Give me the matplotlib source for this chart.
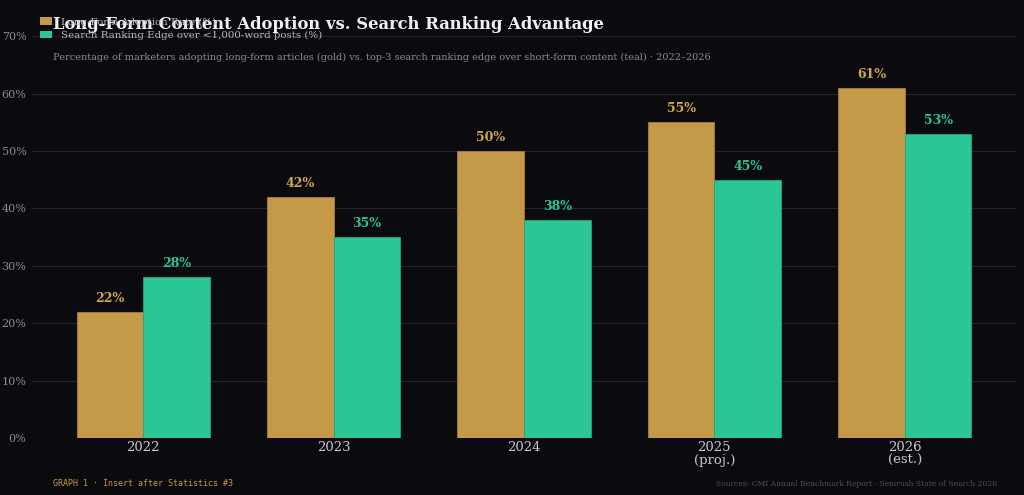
import matplotlib.pyplot as plt
import numpy as np
from matplotlib.patches import Patch

# --- data ---
years = ['2022', '2023', '2024', '2025\n(proj.)', '2026\n(est.)']
adoption = [22, 42, 50, 55, 61]
ranking_edge = [28, 35, 38, 45, 53]

bg = '#0b0b0f'
gold = '#c49a48'
teal = '#2bc596'

plt.rcParams['font.family'] = 'DejaVu Serif'

fig = plt.figure(figsize=(10.24, 4.95), dpi=100, facecolor=bg)
ax = fig.add_axes([0.03125, 0.115, 0.961, 0.812], facecolor=bg)

x = np.arange(len(years))
w = 0.35
b1 = ax.bar(x - w / 2, adoption, w, color=gold, edgecolor='#a88035', linewidth=0.6, zorder=3)
b2 = ax.bar(x + w / 2, ranking_edge, w, color=teal, edgecolor='#22a57c', linewidth=0.6, zorder=3)

for rect, v in zip(b1, adoption):
    ax.annotate(f'{v}%', (rect.get_x() + rect.get_width() / 2, v), xytext=(0, 5),
                textcoords='offset points', ha='center', va='bottom',
                color='#d0a84e', fontsize=9, fontweight='bold')
for rect, v in zip(b2, ranking_edge):
    ax.annotate(f'{v}%', (rect.get_x() + rect.get_width() / 2, v), xytext=(0, 5),
                textcoords='offset points', ha='center', va='bottom',
                color=teal, fontsize=9, fontweight='bold')

ax.set_ylim(0, 70)
ax.set_yticks(range(0, 71, 10))
ax.set_yticklabels([f'{t}%' for t in range(0, 71, 10)])
ax.set_xticks(x)
ax.set_xticklabels(years, linespacing=1.0)
ax.tick_params(axis='y', colors='#8a8a9a', labelsize=8, length=0, pad=4)
ax.tick_params(axis='x', colors='#c8c8d0', labelsize=9.5, length=0, pad=2)
ax.grid(axis='y', color='#24242c', linewidth=0.8, zorder=0)
for s in ax.spines.values():
    s.set_visible(False)

# title, subtitle
fig.text(0.052, 0.951, 'Long-Form Content Adoption vs. Search Ranking Advantage',
         color='#f0f0f0', fontsize=11.8, fontweight='bold', va='center', ha='left')
fig.text(0.052, 0.884, 'Percentage of marketers adopting long-form articles (gold) vs. top-3 search '
         'ranking edge over short-form content (teal) · 2022–2026',
         color='#8a8a9a', fontsize=7, va='center', ha='left')

# legend
handles = [Patch(facecolor=gold, label='Long-Form Adoption Rate (%)'),
           Patch(facecolor=teal, label='Search Ranking Edge over <1,000-word posts (%)')]
fig.legend(handles=handles, loc='upper left', bbox_to_anchor=(0.035, 0.973), frameon=False,
           fontsize=7.4, labelcolor='#b8b8c4', handlelength=1.2, handleheight=0.8,
           handletextpad=0.8, labelspacing=0.35, borderaxespad=0)

# footers
fig.text(0.052, 0.023, 'GRAPH 1 · Insert after Statistics #3', family='DejaVu Sans Mono',
         color='#c49a40', fontsize=6, va='center', ha='left')
fig.text(0.974, 0.023, 'Sources: CMI Annual Benchmark Report · Semrush State of Search 2026',
         color='#4e4e5a', fontsize=5.5, va='center', ha='right')

fig.savefig('out.png', dpi=100, facecolor=bg)
